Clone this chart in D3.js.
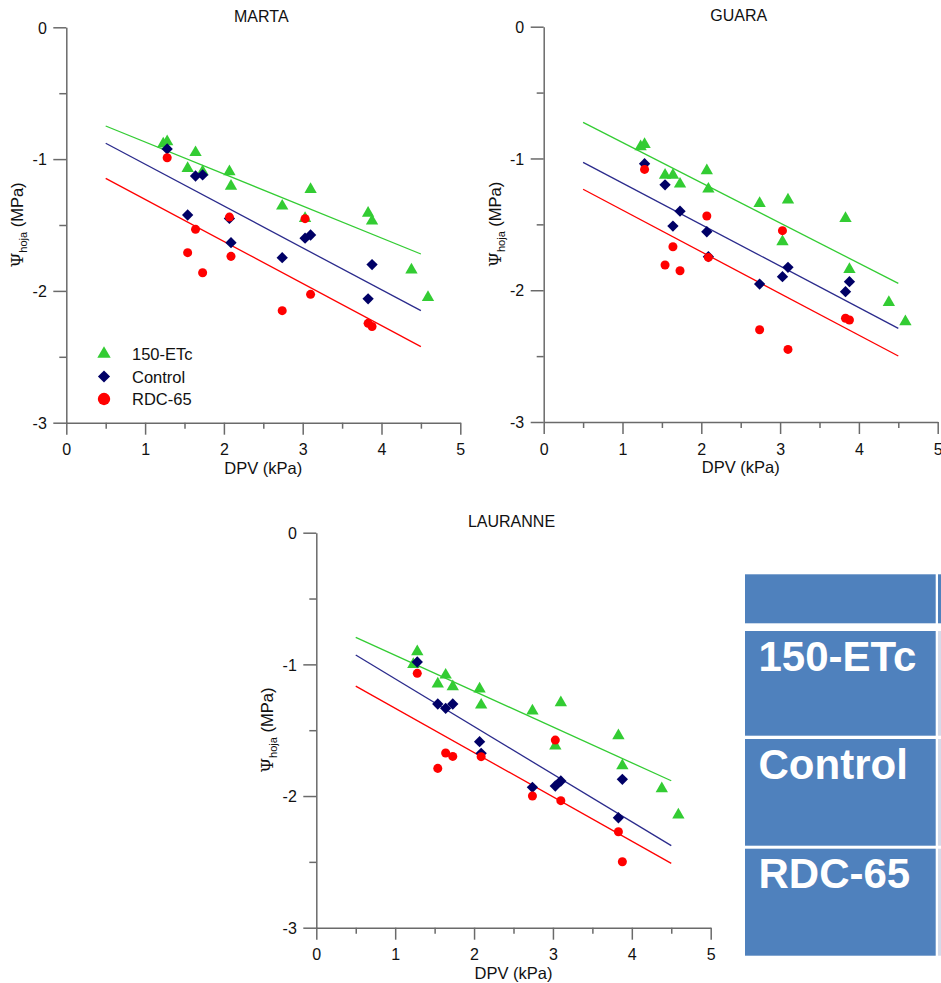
<!DOCTYPE html>
<html><head><meta charset="utf-8">
<script src="https://cdn.jsdelivr.net/npm/d3@7"></script>
<style>html,body{margin:0;padding:0;background:#fff;}svg{display:block;}</style>
</head><body>
<script>
// ---- data ----
const dpv = [1.23, 1.28, 1.54, 1.64, 1.73, 2.07, 2.09, 2.74, 3.03, 3.10, 3.83, 3.88, 4.38, 4.59];
const seriesNames = ["150-ETc", "Control", "RDC-65"];
const panelNames = ["MARTA", "GUARA", "LAURANNE"];

const martaEtc  = [-0.885, -0.868, -1.07, -0.95, -1.096, -1.095, -1.205, -1.356, -1.45, -1.23, -1.41, -1.47, -1.84, -2.05];
const martaCtrl = [null, -0.923, -1.424, -1.128, -1.12, -1.45, -1.634, -1.748, -1.60, -1.576, -2.06, -1.80, null, null];
const martaRdc  = [null, -0.99, -1.71, -1.533, -1.862, -1.44, -1.738, -2.15, -1.452, -2.026, -2.246, -2.27, null, null];

const guaraEtc  = [-0.91, -0.893, -1.126, -1.126, -1.194, -1.093, -1.232, -1.341, -1.632, -1.315, -1.455, -1.842, -2.092, -2.239];
const guaraCtrl = [null, -1.04, -1.20, -1.513, -1.40, -1.556, -1.745, -1.953, -1.897, -1.826, -2.011, -1.935, null, null];
const guaraRdc  = [null, -1.083, -1.809, -1.67, -1.852, -1.437, -1.751, -2.30, -1.548, -2.449, -2.213, -2.226, null, null];

const lauEtc  = [-1.0, -0.904, -1.149, -1.081, -1.17, -1.187, -1.309, -1.354, -1.62, -1.291, -1.542, -1.77, -1.944, -2.144];
const lauCtrl = [null, -0.982, -1.301, -1.334, -1.301, -1.587, -1.676, -1.934, -1.924, -1.886, -2.165, -1.873, null, null];
const lauRdc  = [null, -1.068, -1.79, -1.673, -1.699, null, -1.701, -2.0, -1.575, -2.035, -2.271, -2.499, null, null];

// regression line ends (value at DPV 0.5 and 4.5)
const fitX = [0.5, 4.5];
const martaFit = [[-0.749, -1.72], [-0.88, -2.15], [-1.146, -2.423]];
const guaraFit = [[-0.726, -1.948], [-1.03, -2.289], [-1.234, -2.499]];
const lauFit   = [[-0.795, -1.884], [-0.929, -2.377], [-1.165, -2.511]];

const xTicks = [0, 0.5, 1, 1.5, 2, 2.5, 3, 3.5, 4, 4.5, 5];
const yTicks = [0, -0.5, -1, -1.5, -2, -2.5, -3];
const tableRows = ["150-ETc", "Control", "RDC-65"];

// ---- styles ----
const markerColors = ["#33CC33", "#000066", "#FF0000"];
const lineColors = ["#33CC33", "#2B2B8C", "#FF0000"];
const FONT = "'Liberation Sans', Arial, sans-serif";

const svg = d3.select("body").append("svg").attr("width", 941).attr("height", 983);

const panels = [
  {name: panelNames[0], data: [martaEtc, martaCtrl, martaRdc], fit: martaFit, left: 66.3, right: 460.3, top: 27.3, bottom: 422.7, legend: true},
  {name: panelNames[1], data: [guaraEtc, guaraCtrl, guaraRdc], fit: guaraFit, left: 543.7, right: 937.7, top: 26.7, bottom: 422, legend: false},
  {name: panelNames[2], data: [lauEtc, lauCtrl, lauRdc], fit: lauFit, left: 316.3, right: 710.7, top: 532.7, bottom: 927.7, legend: false}
];

function symbolPath(i, big) {
  if (i === 0) return d3.symbol().type(d3.symbolTriangle).size(big ? 78 : 66)();
  if (i === 1) return d3.symbol().type(d3.symbolSquare).size(big ? 74 : 64)();
  return d3.symbol().type(d3.symbolCircle).size(big ? 120 : 64)();
}

panels.forEach(p => {
  const x = d3.scaleLinear().domain([0, 5]).range([p.left, p.right]);
  const y = d3.scaleLinear().domain([0, -3]).range([p.top, p.bottom]);
  const g = svg.append("g");

  // x axis
  const xa = g.append("g").attr("transform", `translate(0,${p.bottom})`)
    .call(d3.axisBottom(x).tickValues(xTicks).tickSizeOuter(0).tickSizeInner(12)
      .tickFormat(d => Number.isInteger(d) ? String(d) : ""));
  xa.selectAll("line").attr("y2", d => Number.isInteger(d) ? 12 : 6);
  xa.selectAll("text").attr("y", 32.5).attr("dy", 0).style("font-family", FONT).style("font-size", "16px").attr("fill", "#111");

  // y axis
  const ya = g.append("g").attr("transform", `translate(${p.left},0)`)
    .call(d3.axisLeft(y).tickValues(yTicks).tickSizeOuter(0).tickSizeInner(13)
      .tickFormat(d => Number.isInteger(d) ? String(d) : ""));
  ya.selectAll("line").attr("x2", d => Number.isInteger(d) ? -13 : -7);
  ya.selectAll("text").attr("x", -19.5).attr("dy", "0.36em").style("font-family", FONT).style("font-size", "16px").attr("fill", "#111");

  [xa, ya].forEach(a => {
    a.select(".domain").attr("stroke", "#6a6a6a").attr("stroke-width", 1.5);
    a.selectAll(".tick line").attr("stroke", "#6a6a6a").attr("stroke-width", 1.5);
  });

  // title
  g.append("text").attr("x", (p.left + p.right) / 2 - 2).attr("y", p.top - 5.5)
    .attr("text-anchor", "middle").style("font-family", FONT).style("font-size", "16px").attr("fill", "#111").text(p.name);

  // x label
  g.append("text").attr("x", (p.left + p.right) / 2).attr("y", p.bottom + 51)
    .attr("text-anchor", "middle").style("font-family", FONT).style("font-size", "16.5px").attr("fill", "#111").text("DPV (kPa)");

  // y label
  const cy = (p.top + p.bottom) / 2, cx = p.left - 43;
  const yl = g.append("text").attr("transform", `translate(${cx},${cy}) rotate(-90)`)
    .attr("text-anchor", "middle").style("font-family", FONT).style("font-size", "16.5px").attr("fill", "#111");
  yl.append("tspan").style("font-family", "'DejaVu Serif', serif").style("font-size", "17px").text("Ψ");
  yl.append("tspan").attr("dy", 4).style("font-size", "11px").text("hoja");
  yl.append("tspan").attr("dy", -4).text(" (MPa)");

  // regression lines
  p.fit.forEach((f, i) => {
    g.append("line").attr("x1", x(fitX[0])).attr("y1", y(f[0])).attr("x2", x(fitX[1])).attr("y2", y(f[1]))
      .attr("stroke", lineColors[i]).attr("stroke-width", 1.3);
  });

  // points
  p.data.forEach((arr, i) => {
    const pts = dpv.map((d, k) => ({x: d, y: arr[k]})).filter(d => d.y !== null);
    g.append("g").selectAll("path").data(pts).join("path")
      .attr("d", symbolPath(i, false))
      .attr("transform", d => `translate(${x(d.x)},${y(d.y)})` + (i === 1 ? " rotate(45)" : ""))
      .attr("fill", markerColors[i]);
  });

  // legend
  if (p.legend) {
    const lg = g.append("g");
    seriesNames.forEach((s, i) => {
      const ly = 354 + i * 22.5;
      lg.append("path").attr("d", symbolPath(i, true))
        .attr("transform", `translate(104,${ly})` + (i === 1 ? " rotate(45)" : ""))
        .attr("fill", markerColors[i]);
      lg.append("text").attr("x", 132).attr("y", ly + 6).style("font-family", FONT).style("font-size", "16.5px").attr("fill", "#111").text(s);
    });
  }
});

// table fragment
const tg = svg.append("g");
const rowTops = [631, 739, 848.7];
const rowBots = [735.7, 845.7, 955.7];
tg.append("rect").attr("x", 745).attr("y", 574.3).attr("width", 190.7).attr("height", 49).attr("fill", "#4F81BD");
tg.append("rect").attr("x", 938).attr("y", 574.3).attr("width", 10).attr("height", 49).attr("fill", "#4F81BD");
tableRows.forEach((r, i) => {
  tg.append("rect").attr("x", 745).attr("y", rowTops[i]).attr("width", 190.7).attr("height", rowBots[i] - rowTops[i]).attr("fill", "#4F81BD");
  tg.append("rect").attr("x", 938).attr("y", rowTops[i]).attr("width", 10).attr("height", rowBots[i] - rowTops[i]).attr("fill", "#D3DBEA");
  tg.append("text").attr("x", 758.5).attr("y", rowTops[i] + 39.5)
    .style("font-family", FONT).style("font-size", "42px").style("font-weight", "bold").attr("fill", "#fff").text(r);
});
</script>
</body></html>
